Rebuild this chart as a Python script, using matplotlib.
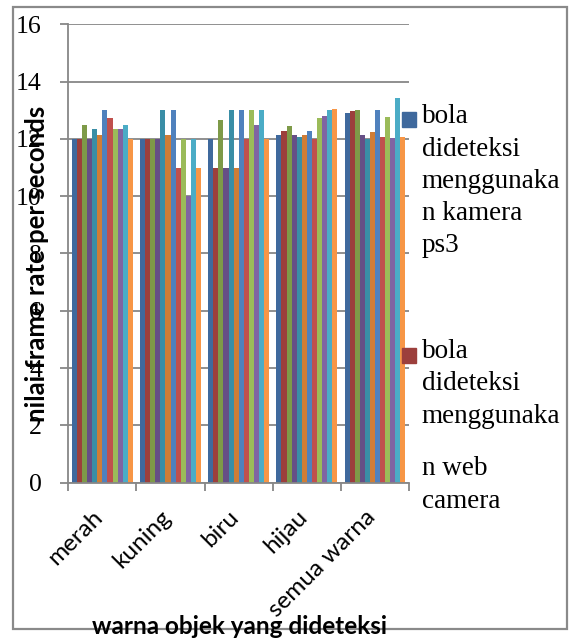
import matplotlib
matplotlib.use("Agg")
import matplotlib.pyplot as plt
import numpy as np
from matplotlib.patches import Rectangle
from matplotlib.transforms import ScaledTranslation

# categories and the 12 series values per category
categories = ["merah", "kuning", "biru", "hijau", "semua warna"]
merah = [12.0, 12.0, 12.5, 12.0, 12.33, 12.12, 13.0, 12.72, 12.33, 12.33, 12.5, 12.0]
kuning = [12.0, 12.0, 12.0, 12.0, 13.0, 12.12, 13.0, 11.0, 12.0, 10.0, 12.0, 11.0]
biru = [12.0, 11.0, 12.65, 11.0, 13.0, 11.0, 13.0, 12.0, 13.0, 12.5, 13.0, 12.0]
hijau = [12.15, 12.27, 12.44, 12.12, 12.08, 12.15, 12.27, 12.0, 12.74, 12.81, 13.02, 13.06]
semua_warna = [12.91, 12.99, 13.02, 12.12, 12.0, 12.23, 13.02, 12.08, 12.77, 12.03, 13.43, 12.07]

legend_ps3 = ["bola", "dideteksi", "menggunaka", "n kamera", "ps3"]
legend_web = ["bola", "dideteksi", "menggunaka", "n web", "camera"]

colors = ['#3F699D', '#9C3F3C', '#7E9A48', '#664F86', '#3A8EA6', '#D07D36',
          '#4F81BD', '#C0504D', '#9BBB59', '#8064A2', '#4BACC6', '#F79646']

W, H = 572, 640
GRID = '#878787'
SERIF = 'Liberation Serif'
SANS = 'Lato'

values = np.array([merah, kuning, biru, hijau, semua_warna])
n_series = values.shape[1]

fig = plt.figure(figsize=(W / 100, H / 100), dpi=100)
ax = fig.add_axes([68.3 / W, 1 - 482.7 / H, (409 - 68.3) / W, (482.7 - 24.3) / H])

x = np.arange(len(categories))
w = 0.893 / n_series
for i in range(n_series):
    ax.bar(x + (i - (n_series - 1) / 2) * w, values[:, i], width=w,
           color=colors[i], linewidth=0, zorder=2)

ax.set_xlim(-0.5, len(categories) - 0.5)
ax.set_ylim(0, 16)
ax.set_yticks(range(0, 17, 2))
ax.set_yticklabels([str(v) for v in range(0, 17, 2)], fontfamily=SERIF, fontsize=18.5)
ax.yaxis.grid(True, color=GRID, linewidth=1.3, zorder=0)
ax.set_axisbelow(True)

# category ticks sit on the boundaries, labels are rotated texts under the centres
ax.set_xticks(np.arange(-0.5, len(categories)))
ax.set_xticklabels([])
ax.tick_params(axis='x', length=6, width=1.3, color=GRID, direction='out')
ax.tick_params(axis='y', length=6, width=1.3, color=GRID, direction='out', pad=13)
lab_tr = ax.get_xaxis_transform() + ScaledTranslation(-0.03, -0.31, fig.dpi_scale_trans)
for xi, lab in zip(x, categories):
    ax.text(xi, 0, lab, transform=lab_tr, rotation=45, ha='right', va='center',
            rotation_mode='anchor', fontfamily=SANS, fontsize=17.5)

for side in ['top', 'right']:
    ax.spines[side].set_visible(False)
for side in ['left', 'bottom']:
    ax.spines[side].set_color(GRID)
    ax.spines[side].set_linewidth(1.3)

# axis titles
fig.text(37 / W, 1 - 263.5 / H, "nilai frame rate per seconds", rotation=90,
         ha='center', va='center', fontfamily=SANS, fontweight='bold', fontsize=18.5)
fig.text(240 / W, 1 - 634 / H, "warna objek yang dideteksi", ha='center',
         va='baseline', fontfamily=SANS, fontweight='bold', fontsize=17.5)

# legend, drawn by hand to keep the wrapped lines
entries = [(legend_ps3, colors[0], 111.7, [123, 155.5, 188, 220, 252]),
           (legend_web, colors[1], 348, [358, 390, 423, 475, 508])]
for lines, col, sq_top, baselines in entries:
    fig.add_artist(Rectangle((401.7 / W, 1 - (sq_top + 15) / H), 14.3 / W, 15 / H,
                             transform=fig.transFigure, color=col, zorder=5))
    for line, yb in zip(lines, baselines):
        fig.text(421.7 / W, 1 - yb / H, line, ha='left', va='baseline',
                 fontfamily=SERIF, fontsize=19.5)

# outer chart border
fig.add_artist(Rectangle((12.7 / W, 1 - 629 / H), (566.7 - 12.7) / W, (629 - 7) / H,
                         transform=fig.transFigure, fill=False, edgecolor='#8A8A8A',
                         linewidth=1.6, zorder=1))

fig.savefig("out.png", dpi=100)
